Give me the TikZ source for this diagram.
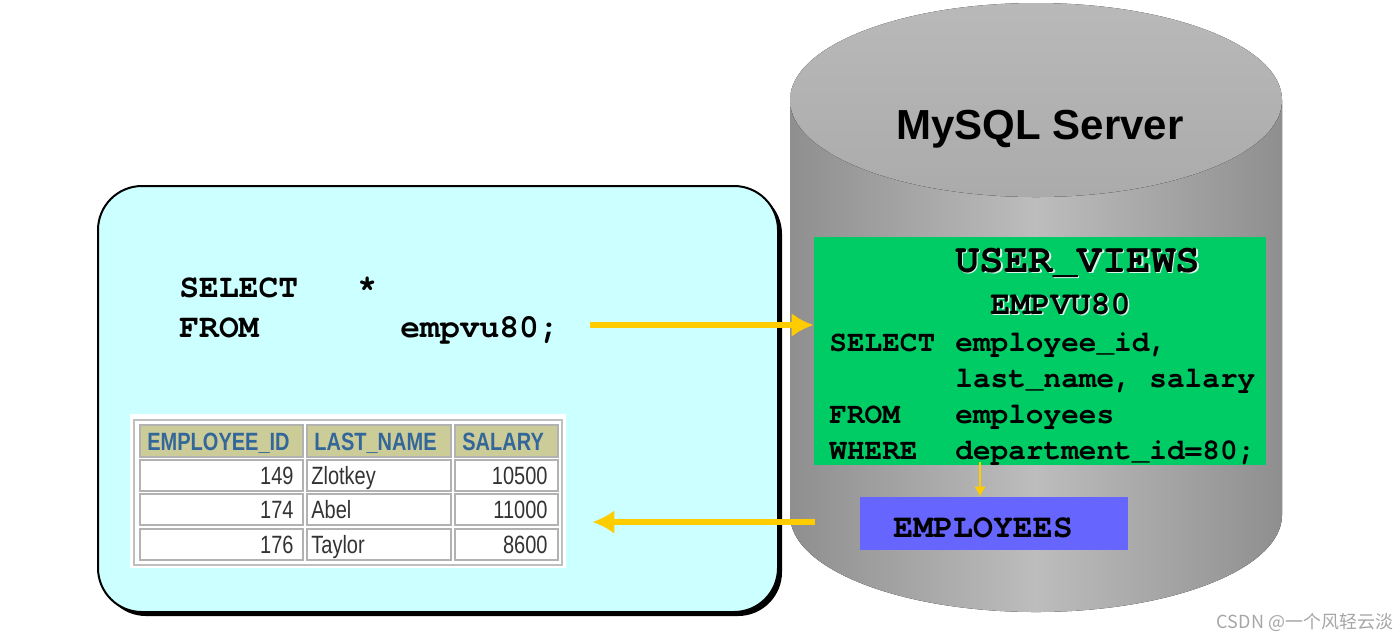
\documentclass[tikz,border=0pt]{standalone}
\usepackage{fontspec}
\setmainfont{Liberation Sans}
\setmonofont{TeX Gyre Cursor}
\newfontfamily\narrowfont[FakeStretch=0.8]{Liberation Sans}
\newfontfamily\cjkfont{Noto Sans CJK SC}
\usepackage{tikz}
\usetikzlibrary{arrows.meta,calc}
\definecolor{clientcyan}{RGB}{204,255,255}
\definecolor{viewgreen}{RGB}{0,204,102}
\definecolor{tableblue}{RGB}{102,102,255}
\definecolor{flowyellow}{RGB}{255,204,0}
\definecolor{headkhaki}{RGB}{204,204,153}
\definecolor{headblue}{RGB}{51,102,153}

\begin{document}
\begin{tikzpicture}[x=0.5pt, y=-0.5pt, >={Latex[length=11pt,width=12pt]},
    code/.style={font=\ttfamily\bfseries\fontsize{14.7}{16}\selectfont, anchor=base west, inner sep=0pt},
    query/.style={font=\ttfamily\bfseries\fontsize{16.5}{18}\selectfont, anchor=base west, inner sep=0pt},
    flow/.style={->, flowyellow, line width=3pt},
    hcell/.style={fill=headkhaki, draw=gray!60, line width=0.6pt},
    dcell/.style={fill=white, draw=gray!60, line width=0.6pt},
    celltxt/.style={font=\narrowfont\fontsize{12.5}{14}\selectfont, text=black!80, inner sep=0pt}]
  % Rahmen
  \useasboundingbox (0,0) rectangle (1400,639);
  % Server (Zylinder)
  \fill[left color=gray!88, right color=gray!88, middle color=gray!52]
    (790,100) -- (790,515) arc[start angle=180, end angle=0, x radius=246, y radius=97] -- (1282,100) -- cycle;
  \fill[top color=gray!55, bottom color=gray!66] (1036,100) ellipse [x radius=246, y radius=97];
  \node[font=\bfseries\fontsize{21}{24}\selectfont, anchor=base] (srv) at (1040,139) {MySQL Server};
  % Client
  \node[fill=black, rounded corners=22pt, minimum width=340pt, minimum height=213pt] (shadow) at (442,403) {};
  \node[draw=black, line width=1pt, fill=clientcyan, rounded corners=22pt, minimum width=340pt, minimum height=213pt] (client) at (438,399) {};
  \node[query] (sel) at (179,297) {SELECT};
  \node[query] (star) at (357,297) {*};
  \node[query] (from) at (179,337) {FROM};
  \node[query] (vname) at (400,337) {empvu80;};
  % Ergebnistabelle
  \node[fill=white, minimum width=218pt, minimum height=77pt, inner sep=0pt] (tab) at (348,491) {};
  \draw[gray!50, line width=0.8pt] (134,420) rectangle (562,565);
  \foreach \xa/\xb/\head in {140/303/EMPLOYEE\_ID, 307/451/LAST\_NAME, 455/558/SALARY} {
    \draw[hcell] (\xa,425) rectangle (\xb,457);
    \node[celltxt, font=\narrowfont\bfseries\fontsize{12.5}{14}\selectfont, text=headblue, anchor=base west] (h\xa) at (\xa+7,450) {\head};
  }
  \foreach \yt/\id/\name/\sal in {460/149/Zlotkey/10500, 494/174/Abel/11000, 529/176/Taylor/8600} {
    \draw[dcell] (140,\yt) rectangle (303,\yt+31);
    \draw[dcell] (307,\yt) rectangle (451,\yt+31);
    \draw[dcell] (455,\yt) rectangle (558,\yt+31);
    \node[celltxt, anchor=base east] (id\yt) at (294,\yt+24) {\id};
    \node[celltxt, anchor=base west] (nm\yt) at (311,\yt+24) {\name};
    \node[celltxt, anchor=base east] (sal\yt) at (548,\yt+24) {\sal};
  }
  % View-Definition
  \node[fill=viewgreen, minimum width=226pt, minimum height=114pt, inner sep=0pt] (view) at (1040,351) {};
  \node[code, font=\ttfamily\bfseries\fontsize{20.4}{22}\selectfont, text=white!85!viewgreen] (uvs) at (956.5,273.5) {USER\_VIEWS};
  \node[code, font=\ttfamily\bfseries\fontsize{20.4}{22}\selectfont] (uv) at (955,272) {USER\_VIEWS};
  \node[code, font=\ttfamily\bfseries\fontsize{16.7}{18}\selectfont, text=white!85!viewgreen] (evs) at (991.5,315.5) {EMPVU80};
  \node[code, font=\ttfamily\bfseries\fontsize{16.7}{18}\selectfont] (ev) at (990,314) {EMPVU80};
  \node[code] (kw1) at (829,351) {SELECT};
  \node[code] (c1) at (955,351) {employee\_id,};
  \node[code] (c2) at (955,387) {last\_name, salary};
  \node[code] (kw2) at (829,423) {FROM};
  \node[code] (c3) at (955,423) {employees};
  \node[code] (kw3) at (829,459) {WHERE};
  \node[code] (c4) at (955,459) {department\_id=80;};
  % Basistabelle
  \node[fill=tableblue, minimum width=134pt, minimum height=26.5pt, inner sep=0pt] (emp) at (994,523.5) {};
  \node[code, font=\ttfamily\bfseries\fontsize{16.6}{18}\selectfont] (empt) at (893,537) {EMPLOYEES};
  % Pfeile
  \coordinate (q) at (590,325);
  \coordinate (r) at (815,522);
  \draw[flow] (q) -- (q -| view.west);
  \draw[flow] (r) -- ($(r -| tab.east)+(26,0)$);
  \draw[->, >={Latex[length=5pt,width=6pt]}, flowyellow, line width=1pt] ([xshift=-30pt,yshift=1.5pt]view.south) -- ([xshift=-7pt]emp.north);
  % Wasserzeichen
  \node[font=\cjkfont\fontsize{9}{10}\selectfont, text=gray!70] (wm) at (1305,622) {CSDN @一个风轻云淡};
\end{tikzpicture}
\end{document}
